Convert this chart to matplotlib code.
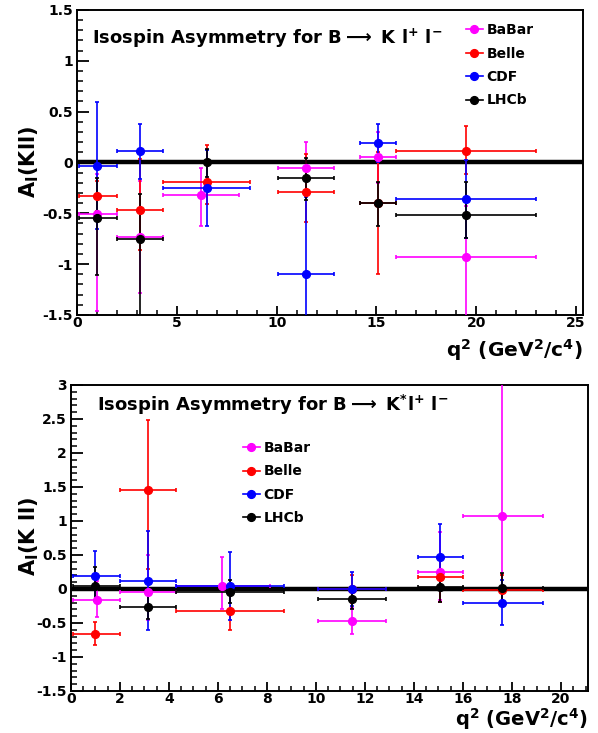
import numpy as np
import matplotlib
matplotlib.use("Agg")
import matplotlib.pyplot as plt
from matplotlib.ticker import MultipleLocator, FormatStrFormatter
from matplotlib.lines import Line2D

plt.rcParams['font.family'] = ['DejaVu Sans']
plt.rcParams['font.weight'] = 'bold'
plt.rcParams['mathtext.fontset'] = 'custom'
plt.rcParams['mathtext.rm'] = 'DejaVu Sans:bold'
plt.rcParams['mathtext.it'] = 'DejaVu Sans:bold'
plt.rcParams['mathtext.bf'] = 'DejaVu Sans:bold'
plt.rcParams['mathtext.sf'] = 'DejaVu Sans:bold'

experiments = ["BaBar", "Belle", "CDF", "LHCb"]
colors = ["#ff00ff", "#ff0000", "#0000ff", "#000000"]

# ---------------- Top panel: B -> K l+ l- ----------------
k_babar_x   = [1.0, 3.15, 6.2, 11.45, 15.1, 19.5]
k_babar_lo  = [0.1, 2.0, 4.3, 10.09, 14.18, 16.0]
k_babar_hi  = [2.0, 4.3, 8.12, 12.86, 16.0, 23.0]
k_babar_y   = [-0.51, -0.73, -0.32, -0.05, 0.05, -0.93]
k_babar_eup = [0.40, 0.55, 0.27, 0.25, 0.25, 0.50]
k_babar_edn = [0.95, 0.55, 0.30, 0.25, 0.25, 0.70]

k_belle_x   = [1.0, 3.15, 6.5, 11.45, 15.1, 19.5]
k_belle_lo  = [0.1, 2.0, 4.3, 10.09, 14.18, 16.0]
k_belle_hi  = [2.0, 4.3, 8.68, 12.86, 16.0, 23.0]
k_belle_y   = [-0.33, -0.47, -0.19, -0.29, -0.40, 0.11]
k_belle_eup = [0.15, 0.50, 0.365, 0.37, 0.50, 0.25]
k_belle_edn = [0.15, 0.39, 0.22, 0.30, 0.70, 0.22]

k_cdf_x   = [1.0, 3.15, 6.5, 11.45, 15.1, 19.5]
k_cdf_lo  = [0.1, 2.0, 4.3, 10.09, 14.18, 16.0]
k_cdf_hi  = [2.0, 4.3, 8.68, 12.86, 16.0, 23.0]
k_cdf_y   = [-0.03, 0.11, -0.25, -1.10, 0.19, -0.36]
k_cdf_eup = [0.62, 0.27, 0.37, 0.76, 0.185, 0.38]
k_cdf_edn = [0.62, 0.27, 0.375, 0.76, 0.19, 0.38]

k_lhcb_x   = [1.0, 3.15, 6.5, 11.45, 15.1, 19.5]
k_lhcb_lo  = [0.1, 2.0, 4.3, 10.09, 14.18, 16.0]
k_lhcb_hi  = [2.0, 4.3, 8.68, 12.86, 16.0, 23.0]
k_lhcb_y   = [-0.55, -0.755, 0.0, -0.15, -0.40, -0.52]
k_lhcb_eup = [0.395, 0.445, 0.13, 0.19, 0.21, 0.33]
k_lhcb_edn = [0.56, 0.80, 0.14, 0.22, 0.225, 0.22]

# ---------------- Bottom panel: B -> K* l+ l- ----------------
ks_babar_x   = [1.05, 3.15, 6.15, 11.45, 15.05, 17.6]
ks_babar_lo  = [0.1, 2.0, 4.3, 10.09, 14.18, 16.0]
ks_babar_hi  = [2.0, 4.3, 8.12, 12.86, 16.0, 19.25]
ks_babar_y   = [-0.16, -0.05, 0.04, -0.47, 0.245, 1.08]
ks_babar_eup = [0.28, 0.55, 0.43, 0.19, 0.60, 2.0]
ks_babar_edn = [0.25, 0.40, 0.33, 0.19, 0.40, 1.10]

ks_belle_x   = [1.0, 3.15, 6.5, 11.45, 15.05, 17.6]
ks_belle_lo  = [0.1, 2.0, 4.3, 10.09, 14.18, 16.0]
ks_belle_hi  = [2.0, 4.3, 8.68, 12.86, 16.0, 19.25]
ks_belle_y   = [-0.66, 1.45, -0.33, 0.0, 0.17, -0.01]
ks_belle_eup = [0.17, 1.04, 0.30, 0.20, 0.25, 0.22]
ks_belle_edn = [0.16, 1.15, 0.27, 0.20, 0.36, 0.22]

ks_cdf_x   = [1.0, 3.15, 6.5, 11.45, 15.05, 17.6]
ks_cdf_lo  = [0.1, 2.0, 4.3, 10.09, 14.18, 16.0]
ks_cdf_hi  = [2.0, 4.3, 8.68, 12.86, 16.0, 19.25]
ks_cdf_y   = [0.19, 0.12, 0.04, 0.0, 0.475, -0.20]
ks_cdf_eup = [0.37, 0.73, 0.51, 0.25, 0.475, 0.33]
ks_cdf_edn = [0.36, 0.72, 0.50, 0.25, 0.45, 0.33]

ks_lhcb_x   = [1.0, 3.15, 6.5, 11.45, 15.05, 17.6]
ks_lhcb_lo  = [0.1, 2.0, 4.3, 10.09, 14.18, 16.0]
ks_lhcb_hi  = [2.0, 4.3, 8.68, 12.86, 16.0, 19.25]
ks_lhcb_y   = [0.05, -0.265, -0.05, -0.15, 0.025, 0.02]
ks_lhcb_eup = [0.28, 0.20, 0.18, 0.18, 0.22, 0.21]
ks_lhcb_edn = [0.21, 0.175, 0.15, 0.15, 0.215, 0.26]

top_title = r"Isospin Asymmetry for B$\longrightarrow$ K l$^{+}$ l$^{-}$"
bot_title = r"Isospin Asymmetry for B$\longrightarrow$ K$^{*}$l$^{+}$ l$^{-}$"
top_ylabel = r"A$_{\rm I}$(Kll)"
bot_ylabel = r"A$_{\rm I}$(K ll)"
xlabel = r"q$^{2}$ (GeV$^{2}$/c$^{4}$)"

top_sets = [
    (k_babar_x, k_babar_lo, k_babar_hi, k_babar_y, k_babar_eup, k_babar_edn),
    (k_belle_x, k_belle_lo, k_belle_hi, k_belle_y, k_belle_eup, k_belle_edn),
    (k_cdf_x, k_cdf_lo, k_cdf_hi, k_cdf_y, k_cdf_eup, k_cdf_edn),
    (k_lhcb_x, k_lhcb_lo, k_lhcb_hi, k_lhcb_y, k_lhcb_eup, k_lhcb_edn),
]
bot_sets = [
    (ks_babar_x, ks_babar_lo, ks_babar_hi, ks_babar_y, ks_babar_eup, ks_babar_edn),
    (ks_belle_x, ks_belle_lo, ks_belle_hi, ks_belle_y, ks_belle_eup, ks_belle_edn),
    (ks_cdf_x, ks_cdf_lo, ks_cdf_hi, ks_cdf_y, ks_cdf_eup, ks_cdf_edn),
    (ks_lhcb_x, ks_lhcb_lo, ks_lhcb_hi, ks_lhcb_y, ks_lhcb_eup, ks_lhcb_edn),
]


def draw_panel(ax, sets, xlim, ylim, xmaj, xmin_, ymaj, ymin_, title, title_xy,
               ylabel, ylabel_xy, xlabel_y, xlabel_size, leg_anchor, zero_span):
    ax.axhline(0, xmin=zero_span[0], xmax=zero_span[1], color="black", lw=3.2, zorder=1.5)
    for (x, lo, hi, y, eu, ed), c in zip(sets, colors):
        x = np.asarray(x); lo = np.asarray(lo); hi = np.asarray(hi)
        ax.errorbar(x, y, xerr=[x - lo, hi - x], yerr=[ed, eu], fmt="o", color=c,
                    ms=5.6, elinewidth=1.2, capsize=1.6, capthick=1.2, zorder=3,
                    clip_on=True)
    ax.set_xlim(*xlim)
    ax.set_ylim(*ylim)
    ax.xaxis.set_major_locator(MultipleLocator(xmaj))
    ax.xaxis.set_minor_locator(MultipleLocator(xmin_))
    ax.yaxis.set_major_locator(MultipleLocator(ymaj))
    ax.yaxis.set_minor_locator(MultipleLocator(ymin_))
    ax.xaxis.set_major_formatter(FormatStrFormatter("%g"))
    ax.yaxis.set_major_formatter(FormatStrFormatter("%g"))
    ax.tick_params(axis="y", which="major", direction="in", length=8.5, width=1.3,
                   labelsize=10, pad=3)
    ax.tick_params(axis="y", which="minor", direction="in", length=4.5, width=1.1)
    ax.tick_params(axis="x", which="major", direction="in", length=6.5, width=1.3,
                   labelsize=10, pad=1.0)
    ax.tick_params(axis="x", which="minor", direction="in", length=3.5, width=1.1)
    for lab in ax.get_xticklabels() + ax.get_yticklabels():
        lab.set_fontweight("bold")
    for s in ax.spines.values():
        s.set_linewidth(1.4)
    ax.text(title_xy[0], title_xy[1], title, transform=ax.transAxes, fontsize=13,
            fontweight="bold", ha="left", va="center")
    ax.text(ylabel_xy[0], ylabel_xy[1], ylabel, transform=ax.transAxes, fontsize=15,
            fontweight="bold", ha="center", va="center", rotation=90)
    ax.text(1.0, xlabel_y, xlabel, transform=ax.transAxes, fontsize=xlabel_size,
            fontweight="bold", ha="right", va="bottom")
    handles = [Line2D([], [], color=c, marker="o", ms=5.6, lw=1.2) for c in colors]
    ax.legend(handles, experiments, loc="upper left", bbox_to_anchor=leg_anchor,
              frameon=False, handlelength=1.2, handletextpad=0.25, labelspacing=0.68,
              borderpad=0, borderaxespad=0, prop={"size": 10, "weight": "bold"})


fig = plt.figure(figsize=(5.98, 7.33), dpi=100)
ax1 = fig.add_axes([0.1288, 0.5703, 0.8462, 0.4161])
ax2 = fig.add_axes([0.1187, 0.0573, 0.8645, 0.4175])

draw_panel(ax1, top_sets, (0, 25.35), (-1.5, 1.5), 5, 1, 0.5, 0.1, top_title,
           (0.03, 0.908), top_ylabel, (-0.095, 0.502), -0.158, 14.5, (0.769, 0.957),
           (0.005, 0.995))
draw_panel(ax2, bot_sets, (0, 21.1), (-1.5, 3.0), 2, 0.5, 0.5, 0.1, bot_title,
           (0.05, 0.935), bot_ylabel, (-0.081, 0.507), -0.135, 14, (0.333, 0.817),
           (0.006, 0.995))

fig.savefig("out.png", dpi=100)
